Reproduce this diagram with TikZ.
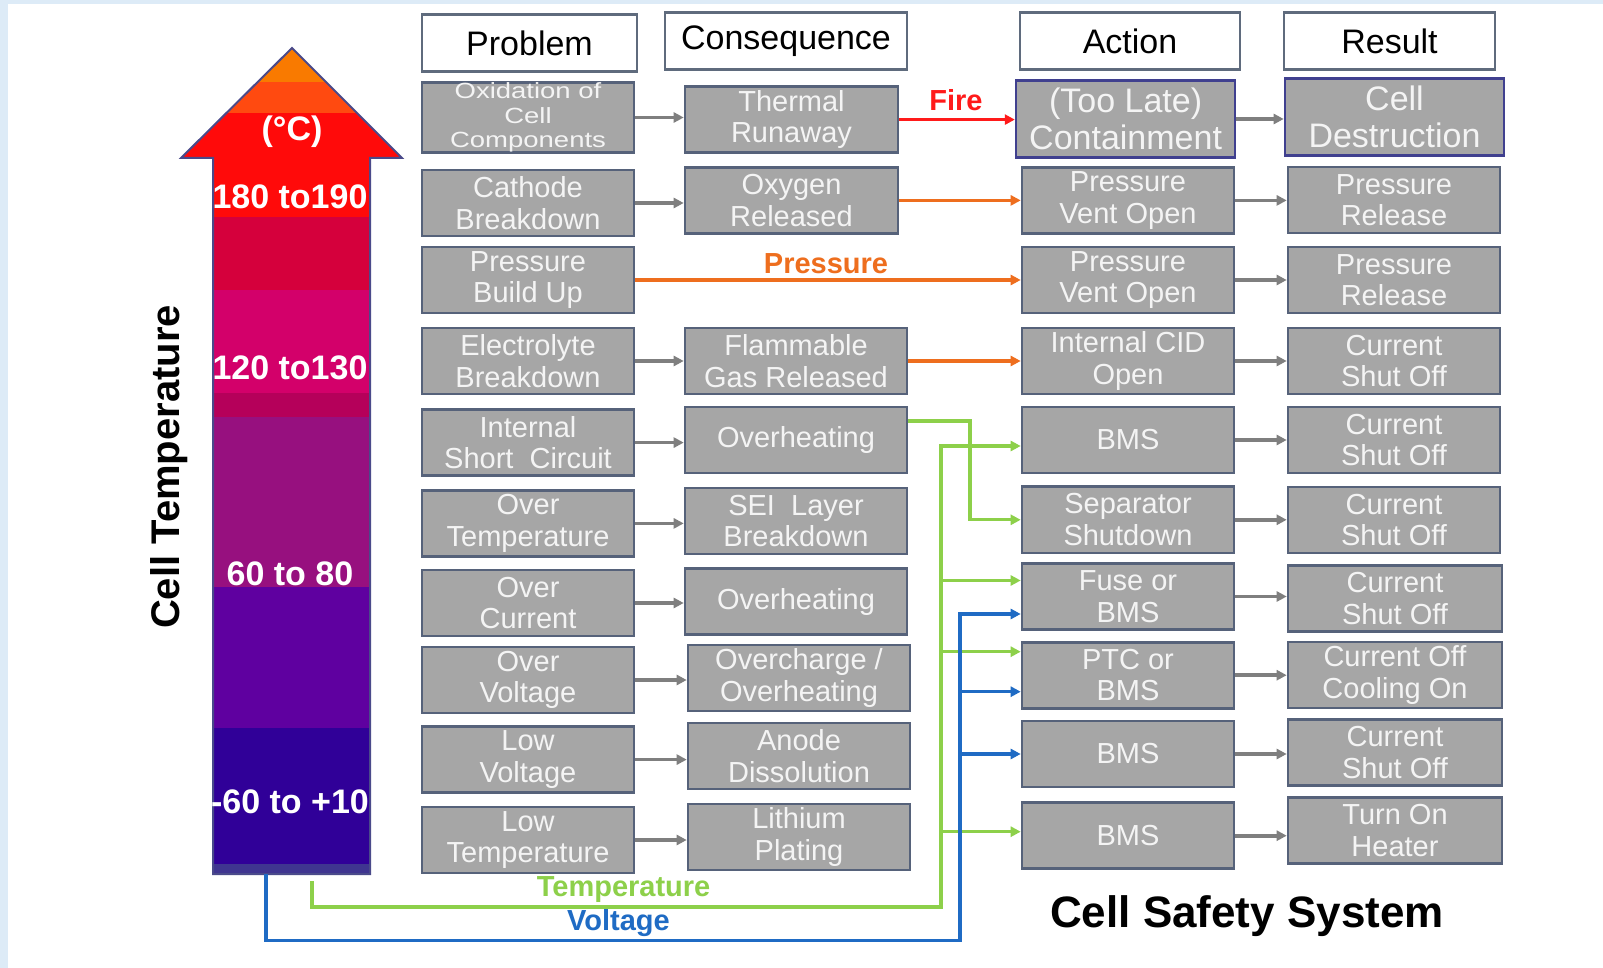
\documentclass[tikz,border=0pt]{standalone}
\usepackage{fontspec}
\setmainfont{Liberation Sans}
\usetikzlibrary{arrows.meta}

\definecolor{framebg}{HTML}{DDEBF7}
\definecolor{hdredge}{HTML}{5F6B7D}
\definecolor{boxedge}{HTML}{56627A}
\definecolor{lateedge}{HTML}{40408F}
\definecolor{boxgray}{HTML}{A6A6A6}
\definecolor{boxtext}{HTML}{F4F4F4}
\definecolor{linegray}{HTML}{7F7F7F}
\definecolor{firered}{HTML}{FF1A1A}
\definecolor{prsorange}{HTML}{EE6E1E}
\definecolor{tmpgreen}{HTML}{8DD04A}
\definecolor{vltblue}{HTML}{1F6BC4}
\definecolor{arredge}{HTML}{4A4A8A}
\definecolor{band1}{HTML}{F97A00}
\definecolor{band2}{HTML}{FF4A10}
\definecolor{band3}{HTML}{FF0A0A}
\definecolor{band4}{HTML}{D5003C}
\definecolor{band5}{HTML}{D3006A}
\definecolor{band6}{HTML}{B5005A}
\definecolor{band7}{HTML}{97107F}
\definecolor{band8}{HTML}{5F00A0}
\definecolor{band9}{HTML}{300098}
\definecolor{band10}{HTML}{3F3590}

\begin{document}
\begin{tikzpicture}[x=0.5pt, y=-0.5pt,
    every node/.style={inner sep=0pt, align=center},
    hdr/.style={draw=hdredge, line width=1.2pt, fill=white, minimum height=28.5pt,
                font=\fontsize{17}{20}\selectfont},
    graybox/.style={draw=boxedge, line width=1.3pt, fill=boxgray, text=boxtext,
                minimum width=106pt, minimum height=33pt, font=\fontsize{14.5}{15.8}\selectfont},
    widebox/.style={graybox, minimum width=111pt},
    latebox/.style={graybox, draw=lateedge, minimum width=109.5pt, minimum height=38.5pt,
                font=\fontsize{17}{18.5}\selectfont},
    garrow/.style={draw=linegray, line width=1.8pt, -{Triangle[length=5pt,width=5pt]}},
    fire/.style={draw=firered, line width=1.6pt, -{Triangle[length=5pt,width=5pt]}},
    prs/.style={draw=prsorange, line width=1.6pt, -{Triangle[length=5pt,width=5pt]}},
    tmp/.style={draw=tmpgreen, line width=1.6pt, -{Triangle[length=5pt,width=5pt]}},
    vlt/.style={draw=vltblue, line width=1.6pt, -{Triangle[length=5pt,width=5pt]}},
    lbl/.style={font=\fontsize{14.5}{16}\selectfont\bfseries},
    arrtxt/.style={text=white, font=\fontsize{17}{20}\selectfont\bfseries}]

    % frame
    \fill[framebg] (0,0) rectangle (1603,968);
    \fill[white] (8,4) rectangle (1603,968);
    \useasboundingbox (0,0) rectangle (1603,968);

    % temperature arrow
    \begin{scope}
        \clip (213,874) -- (213,158) -- (181,158) -- (292,48) -- (402,158) -- (370,158) -- (370,874) -- cycle;
        \foreach \ya/\yb/\n in {40/82/1, 82/113/2, 113/217/3, 217/290/4, 290/393/5,
                                393/417/6, 417/587/7, 587/728/8, 728/864/9, 864/880/10}
            \fill[fill=band\n] (170,\ya) rectangle (410,\yb);
    \end{scope}
    \draw[arredge, line width=1pt] (213,874) -- (213,158) -- (181,158) -- (292,48)
        -- (402,158) -- (370,158) -- (370,874) -- cycle;
    \node[arrtxt] (unit) at (292,132) {(°C)};
    \node[arrtxt] (t190) at (290,197) {180 to190};
    \node[arrtxt] (t130) at (290,368) {120 to130};
    \node[arrtxt] (t80) at (290,574) {60 to 80};
    \node[arrtxt] (t10) at (290,802) {-60 to +10};
    \node[rotate=90, font=\fontsize{20}{24}\selectfont\bfseries] (celltemp) at (169,467) {Cell Temperature};

    % headers
    \node[hdr, minimum width=107.5pt] (hprob) at (529.5,43) {Problem};
    \node[hdr, minimum width=121pt] (hcons) at (786,41) {Consequence};
    \node[hdr, minimum width=110pt] (hact) at (1130,41) {Action};
    \node[hdr, minimum width=105.5pt] (hres) at (1389.5,41) {Result};

    % problems
    \node[graybox, minimum height=34.5pt,
          font=\fontsize{11}{12.4}\selectfont\addfontfeatures{FakeStretch=1.25}] (oxi) at (528,117.5) {Oxidation of\\Cell\\Components};
    \node[graybox] (cath) at (528,203) {Cathode\\Breakdown};
    \node[graybox] (pbu) at (528,280) {Pressure\\Build Up};
    \node[graybox] (elec) at (528,361) {Electrolyte\\Breakdown};
    \node[graybox] (isc) at (528,442.6) {Internal\\Short~~Circuit};
    \node[graybox] (otemp) at (528,523.4) {Over\\Temperature};
    \node[graybox] (ocur) at (528,603) {Over\\Current};
    \node[graybox] (ovolt) at (528,680) {Over\\Voltage};
    \node[graybox] (lvolt) at (528,759.6) {Low\\Voltage};
    \node[graybox] (ltemp) at (528,840) {Low\\Temperature};

    % consequences
    \node[graybox, minimum width=106.5pt] (therm) at (791.5,119.6) {Thermal\\Runaway};
    \node[graybox, minimum width=106.5pt] (oxy) at (791.5,200.4) {Oxygen\\Released};
    \node[widebox] (flam) at (796,361) {Flammable\\Gas Released};
    \node[widebox] (oh1) at (796,440) {Overheating};
    \node[widebox] (sei) at (796,521) {SEI~~Layer\\Breakdown};
    \node[widebox] (oh2) at (796,601.6) {Overheating};
    \node[widebox] (ochg) at (799,677.8) {Overcharge /\\Overheating};
    \node[widebox] (anode) at (799,756) {Anode\\Dissolution};
    \node[widebox] (lith) at (799,836.8) {Lithium\\Plating};

    % actions
    \node[latebox] (late) at (1125.6,119) {(Too Late)\\Containment};
    \node[graybox] (pv1) at (1128,200.4) {Pressure\\Vent Open};
    \node[graybox] (pv2) at (1128,280) {Pressure\\Vent Open};
    \node[graybox] (cid) at (1128,361) {Internal CID\\Open};
    \node[graybox] (bms1) at (1128,440) {BMS};
    \node[graybox] (sep) at (1128,519.8) {Separator\\Shutdown};
    \node[graybox] (fuse) at (1128,596.5) {Fuse or\\BMS};
    \node[graybox] (ptc) at (1128,675.2) {PTC or\\BMS};
    \node[graybox] (bms3) at (1128,754) {BMS};
    \node[graybox] (bms4) at (1128,835.7) {BMS};

    % results
    \node[latebox] (destr) at (1394.5,117) {Cell\\Destruction};
    \node[graybox] (pr1) at (1394,200) {Pressure\\Release};
    \node[graybox] (pr2) at (1394,280) {Pressure\\Release};
    \node[graybox] (cso1) at (1394,361) {Current\\Shut Off};
    \node[graybox] (cso2) at (1394,440) {Current\\Shut Off};
    \node[graybox] (cso3) at (1394,520) {Current\\Shut Off};
    \node[graybox, minimum width=107pt] (cso4) at (1395,598.5) {Current\\Shut Off};
    \node[graybox, minimum width=107pt] (cool) at (1395,675) {Current Off\\Cooling On};
    \node[graybox, minimum width=107pt] (cso5) at (1395,752.4) {Current\\Shut Off};
    \node[graybox, minimum width=107pt] (heat) at (1395,830.6) {Turn On\\Heater};

    \node[font=\fontsize{22}{26}\selectfont\bfseries] (css) at (1247,916) {Cell Safety System};

    % problem -> consequence
    \path (oxi.east) edge[garrow] (oxi.east -| therm.west);
    \path (cath.east) edge[garrow] (cath.east -| oxy.west);
    \path (elec.east) edge[garrow] (elec.east -| flam.west);
    \path (isc.east) edge[garrow] (isc.east -| oh1.west);
    \path (otemp.east) edge[garrow] (otemp.east -| sei.west);
    \path (ocur.east) edge[garrow] (ocur.east -| oh2.west);
    \path (ovolt.east) edge[garrow] (ovolt.east -| ochg.west);
    \path (lvolt.east) edge[garrow] (lvolt.east -| anode.west);
    \path (ltemp.east) edge[garrow] (ltemp.east -| lith.west);

    % action -> result
    \path (late.east) edge[garrow] (late.east -| destr.west);
    \path (pv1.east) edge[garrow] (pv1.east -| pr1.west);
    \path (pv2.east) edge[garrow] (pv2.east -| pr2.west);
    \path (cid.east) edge[garrow] (cid.east -| cso1.west);
    \path (bms1.east) edge[garrow] (bms1.east -| cso2.west);
    \path (sep.east) edge[garrow] (sep.east -| cso3.west);
    \path (fuse.east) edge[garrow] (fuse.east -| cso4.west);
    \path (ptc.east) edge[garrow] (ptc.east -| cool.west);
    \path (bms3.east) edge[garrow] (bms3.east -| cso5.west);
    \path (bms4.east) edge[garrow] (bms4.east -| heat.west);

    % fire and pressure
    \path (therm.east) edge[fire] (therm.east -| late.west);
    \node[lbl, text=firered] (lfire) at (956,100) {Fire};
    \path (oxy.east) edge[prs] (oxy.east -| pv1.west);
    \path (pbu.east) edge[prs] (pbu.east -| pv2.west);
    \path (flam.east) edge[prs] (flam.east -| cid.west);
    \node[lbl, text=prsorange] (lprs) at (826,264) {Pressure};

    % temperature and voltage sensing
    \coordinate (g1) at (970,421);
    \coordinate (tstart) at (312,881);
    \coordinate (tbus) at (941,907);
    \coordinate (vstart) at (266,874);
    \coordinate (vbus) at (960,940.5);
    \coordinate (tin1) at ([yshift=-3pt]bms1.west);
    \coordinate (tin2) at ([yshift=8pt]fuse.west);
    \coordinate (tin3) at ([yshift=11.75pt]ptc.west);
    \coordinate (tin4) at ([yshift=2pt]bms4.west);
    \coordinate (vin1) at ([yshift=-8.75pt]fuse.west);
    \coordinate (vin2) at ([yshift=-8.25pt]ptc.west);
    \coordinate (vin3) at (bms3.west);

    \draw[tmp] (oh1.east |- g1) -- (g1) |- (sep.west);
    \draw[tmp] (tstart) |- (tbus) |- (tin1);
    \path (tbus |- tin2) edge[tmp] (tin2) (tbus |- tin3) edge[tmp] (tin3) (tbus |- tin4) edge[tmp] (tin4);
    \draw[vlt] (vstart) |- (vbus) |- (vin1);
    \path (vbus |- vin2) edge[vlt] (vin2) (vbus |- vin3) edge[vlt] (vin3);
    \node[lbl, text=tmpgreen] (ltmp) at (623.6,890) {Temperature};
    \node[lbl, text=vltblue] (lvlt) at (618.5,923) {Voltage};
\end{tikzpicture}
\end{document}
